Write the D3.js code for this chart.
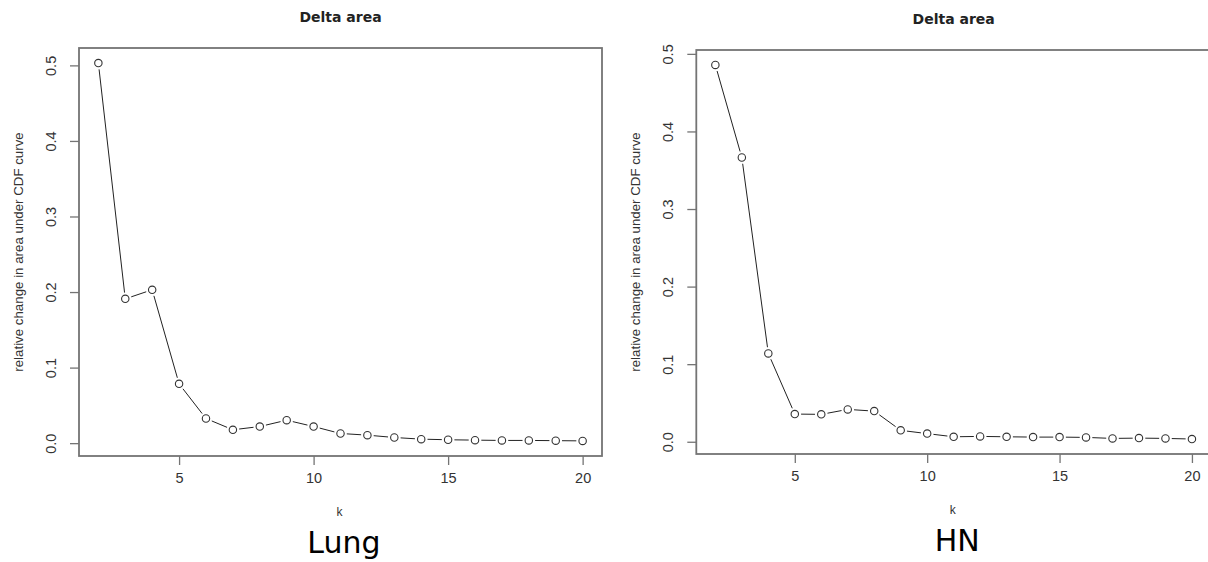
<!DOCTYPE html>
<html>
<head>
<meta charset="utf-8">
<script src="https://cdn.jsdelivr.net/npm/d3@7"></script>
<style>
  body { margin: 0; background: #fff; }
  svg { display: block; }
</style>
</head>
<body>
<div id="container"></div>
<script>
const width = 1208;
const height = 562;

// data
const ks = [2, 3, 4, 5, 6, 7, 8, 9, 10, 11, 12, 13, 14, 15, 16, 17, 18, 19, 20];
const lungValues = [0.503, 0.191, 0.203, 0.0785, 0.0326, 0.0177, 0.022, 0.0304, 0.022, 0.0128,
                    0.0106, 0.0075, 0.0053, 0.0045, 0.004, 0.0036, 0.0036, 0.0033, 0.003];
const hnValues = [0.4857, 0.3664, 0.1138, 0.0357, 0.0353, 0.0417, 0.0395, 0.0147, 0.0105, 0.0064,
                  0.0069, 0.0064, 0.006, 0.006, 0.0056, 0.0043, 0.0047, 0.0043, 0.0035];
const xTicks = [5, 10, 15, 20];
const yTicks = [0, 0.1, 0.2, 0.3, 0.4, 0.5];
const panelNames = ["Lung", "HN"];

const panels = [
  {name: panelNames[0], values: lungValues, box: {x0: 79, x1: 602, y0: 48, y1: 456}},
  {name: panelNames[1], values: hnValues, box: {x0: 696.3, x1: 1211, y0: 50, y1: 454}}
];

const svg = d3.select("div#container")
  .append("svg")
  .attr("width", width)
  .attr("height", height)
  .attr("viewBox", [0, 0, width, height]);

// R style: extend range by 4% each side
const pad = ([a, b]) => [a - (b - a) * 0.04, b + (b - a) * 0.04];
const gap = 6.3;
const boxColor = "#747474";
const tickFont = "14.5px 'Liberation Sans', Arial, sans-serif";

panels.forEach(p => {
  const b = p.box;
  const x = d3.scaleLinear().domain(pad(d3.extent(ks))).range([b.x0, b.x1]);
  const y = d3.scaleLinear().domain(pad(d3.extent(p.values))).range([b.y1, b.y0]);
  const g = svg.append("g");
  const cx = (b.x0 + b.x1) / 2;
  const cy = (b.y0 + b.y1) / 2;

  // box
  g.append("rect")
    .attr("x", b.x0).attr("y", b.y0)
    .attr("width", b.x1 - b.x0).attr("height", b.y1 - b.y0)
    .attr("fill", "none")
    .attr("stroke", boxColor)
    .attr("stroke-width", 1.8);

  // x axis
  const xa = g.append("g")
    .attr("transform", `translate(0,${b.y1})`)
    .call(d3.axisBottom(x).tickValues(xTicks).tickSize(9).tickSizeOuter(0).tickPadding(8));
  xa.select(".domain").remove();
  xa.selectAll("line").attr("stroke", boxColor).attr("stroke-width", 1.3);
  xa.selectAll("text")
    .attr("fill", "#333")
    .style("font", tickFont);

  // y axis, labels parallel to axis
  const ya = g.append("g")
    .attr("transform", `translate(${b.x0},0)`)
    .call(d3.axisLeft(y).tickValues(yTicks).tickSize(9).tickSizeOuter(0).tickFormat(d3.format(".1f")));
  ya.select(".domain").remove();
  ya.selectAll("line").attr("stroke", boxColor).attr("stroke-width", 1.3);
  ya.selectAll("text")
    .attr("x", null).attr("dy", null)
    .attr("text-anchor", "middle")
    .attr("transform", "translate(-23.5,0) rotate(-90)")
    .attr("fill", "#333")
    .style("font", tickFont);

  // line with gaps around points (type = "b")
  const pts = ks.map((k, i) => [x(k), y(p.values[i])]);
  const segs = d3.pairs(pts).filter(([a, c]) => Math.hypot(c[0] - a[0], c[1] - a[1]) > 2 * gap);
  g.append("g")
    .selectAll("line")
    .data(segs)
    .join("line")
    .each(function([a, c]) {
      const d = Math.hypot(c[0] - a[0], c[1] - a[1]);
      const ux = (c[0] - a[0]) / d, uy = (c[1] - a[1]) / d;
      d3.select(this)
        .attr("x1", a[0] + ux * gap).attr("y1", a[1] + uy * gap)
        .attr("x2", c[0] - ux * gap).attr("y2", c[1] - uy * gap);
    })
    .attr("stroke", "#222")
    .attr("stroke-width", 1);

  g.append("g")
    .selectAll("circle")
    .data(pts)
    .join("circle")
    .attr("cx", d => d[0])
    .attr("cy", d => d[1])
    .attr("r", 3.7)
    .attr("fill", "#fff")
    .attr("stroke", "#333")
    .attr("stroke-width", 1.1);

  // titles and labels
  g.append("text")
    .attr("x", cx).attr("y", b.y0 - 26)
    .attr("text-anchor", "middle")
    .attr("fill", "#222")
    .style("font", "bold 14px 'DejaVu Sans', sans-serif")
    .text("Delta area");

  g.append("text")
    .attr("transform", `translate(${b.x0 - 56.5},${cy}) rotate(-90)`)
    .attr("text-anchor", "middle")
    .attr("fill", "#333")
    .style("font", "13.3px 'Liberation Sans', Arial, sans-serif")
    .text("relative change in area under CDF curve");

  g.append("text")
    .attr("x", cx - 1).attr("y", b.y1 + 60)
    .attr("text-anchor", "middle")
    .attr("fill", "#333")
    .style("font", "12px 'Liberation Sans', Arial, sans-serif")
    .text("k");

  g.append("text")
    .attr("x", cx + 3.5).attr("y", b.y1 + 97)
    .attr("text-anchor", "middle")
    .attr("fill", "#000")
    .style("font", "30px 'DejaVu Sans', sans-serif")
    .text(p.name);
});
</script>
</body>
</html>
